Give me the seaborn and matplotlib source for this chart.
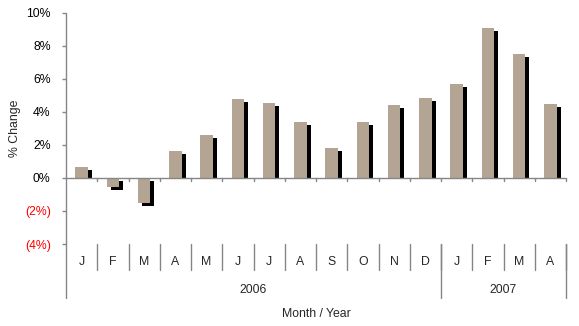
import matplotlib
matplotlib.use("Agg")
import matplotlib.pyplot as plt
import matplotlib.transforms as mtransforms
from matplotlib.lines import Line2D
import seaborn as sns
import pandas as pd

periods = ["2006-01", "2006-02", "2006-03", "2006-04", "2006-05", "2006-06",
           "2006-07", "2006-08", "2006-09", "2006-10", "2006-11", "2006-12",
           "2007-01", "2007-02", "2007-03", "2007-04"]
month_labels = ["J", "F", "M", "A", "M", "J", "J", "A", "S", "O", "N", "D",
                "J", "F", "M", "A"]
years = ["2006", "2007"]
year_counts = [12, 4]
pct_change = [0.67, -0.58, -1.5, 1.64, 2.6, 4.79, 4.55, 3.39, 1.82, 3.39,
              4.42, 4.85, 5.7, 9.09, 7.52, 4.48]
y_ticks = [-4, -2, 0, 2, 4, 6, 8, 10]

sns.set_theme(style="white")
plt.rcParams["font.family"] = ["Liberation Sans", "DejaVu Sans"]

df = pd.DataFrame({"period": periods, "pct": pct_change})

W, H = 579, 326
fig = plt.figure(figsize=(W / 100, H / 100), dpi=100)
ax = fig.add_axes([66 / W, 1 - 244 / H, (566 - 66) / W, (244 - 12.7) / H])

gray = "#868686"
tan = "#B4A494"
fs = 8.8

# shadow bars
sns.barplot(data=df, x="period", y="pct", order=periods, color="black",
            width=0.4, saturation=1, ax=ax, zorder=2)
n_shadow = len(ax.patches)
sns.barplot(data=df, x="period", y="pct", order=periods, color=tan,
            width=0.4, saturation=1, ax=ax, zorder=3)

offset = mtransforms.ScaledTranslation(4 / 100, -3 / 100, fig.dpi_scale_trans)
clip_pos = mtransforms.TransformedBbox(mtransforms.Bbox([[-1, 0], [17, 11]]), ax.transData)
for i, p in enumerate(ax.patches[:n_shadow]):
    p.set_transform(ax.transData + offset)
    p.set_edgecolor("none")
    if p.get_height() > 0:
        p.set_clip_box(clip_pos)
for p in ax.patches[n_shadow:]:
    p.set_edgecolor("none")

n = len(periods)
ax.set_xlim(-0.5, n - 0.5)
ax.set_ylim(-4, 10)

for s in ax.spines.values():
    s.set_visible(False)

# y axis
ax.set_yticks(y_ticks)
ax.set_yticklabels([f"{v}%" if v >= 0 else f"({abs(v)}%)" for v in y_ticks])
for lbl, v in zip(ax.get_yticklabels(), y_ticks):
    lbl.set_color("#FF0000" if v < 0 else "black")
ax.tick_params(axis="y", left=True, length=3, width=1, color=gray,
               pad=8, labelsize=fs)
ax.set_ylabel("% Change", fontsize=fs, labelpad=2.5)
ax.set_xticks([])
ax.set_xlabel("")

# left axis line extended down
ax.add_line(Line2D([0, 0], [1, -0.2335], transform=ax.transAxes, color=gray,
                   lw=1, clip_on=False, zorder=5))
# zero line
ax.axhline(0, color=gray, lw=1, zorder=5)
# small ticks on zero line
for k in range(1, n + 1):
    ax.plot([k - 0.5, k - 0.5], [0, -0.18], color=gray, lw=1, zorder=5,
            clip_on=False)

blend = mtransforms.blended_transform_factory(ax.transData, ax.transAxes)
# month separators and labels
for k in range(1, n + 1):
    ax.add_line(Line2D([k - 0.5, k - 0.5], [0, -0.1145], transform=blend,
                       color=gray, lw=1, clip_on=False))
for i, m in enumerate(month_labels):
    ax.text(i, -0.078, m, transform=blend, ha="center", va="center",
            fontsize=fs)

# year separators and labels
start = 0
for y, c in zip(years, year_counts):
    end = start + c
    ax.add_line(Line2D([end - 0.5, end - 0.5], [0, -0.2335], transform=blend,
                       color=gray, lw=1, clip_on=False))
    ax.text((start + end - 1) / 2, -0.199, y, transform=blend, ha="center",
            va="center", fontsize=fs)
    start = end

ax.text(0.5, -0.3026, "Month / Year", transform=ax.transAxes, ha="center",
        va="center", fontsize=fs)

fig.savefig("out.png", dpi=100)
